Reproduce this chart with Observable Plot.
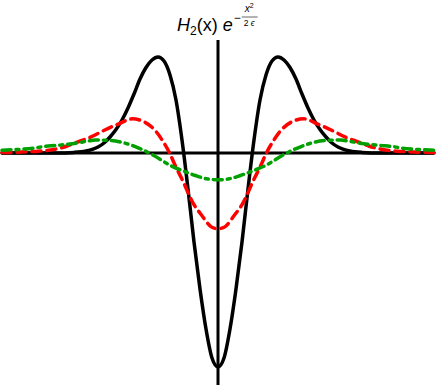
<!DOCTYPE html>
<html>
<head>
<meta charset="utf-8">
<script src="https://cdn.jsdelivr.net/npm/d3@7"></script>
<script src="https://cdn.jsdelivr.net/npm/@observablehq/plot@0.6"></script>
<style>
  html, body { margin: 0; padding: 0; background: #fff; }
  #chart svg { display: block; }
</style>
</head>
<body>
<div id="chart"></div>
<script>
// Right half (x >= 0) of each curve; the curves are symmetric about x = 0.
const blackX = [0, 0.1, 0.2, 0.3, 0.4, 0.5, 0.6, 0.7, 0.8, 0.9, 1.0, 1.1, 1.2, 1.3, 1.4, 1.5, 1.6, 1.7, 1.8, 1.9, 2.0, 2.2, 2.4, 2.7, 3.6];
const blackY = [-2.14, -2.05, -1.76, -1.36, -0.89, -0.36, 0.13, 0.53, 0.78, 0.92, 0.96, 0.93, 0.855, 0.74, 0.59, 0.45, 0.33, 0.235, 0.16, 0.10, 0.06, 0.02, 0.006, 0, 0];

const redX = [0, 0.103, 0.27, 0.408, 0.603, 0.713, 0.813, 0.908, 1.047, 1.242, 1.43, 1.653, 1.903, 2.125, 2.347, 2.513, 2.737, 2.987, 3.175, 3.6];
const redY = [-0.757, -0.742, -0.625, -0.508, -0.258, -0.125, 0.008, 0.108, 0.225, 0.315, 0.342, 0.292, 0.225, 0.158, 0.108, 0.07, 0.035, 0.018, 0.012, 0.004];

const greenX = [0, 0.187, 0.375, 0.575, 0.792, 1.07, 1.292, 1.57, 1.792, 2.042, 2.18, 2.43, 2.708, 2.903, 3.08, 3.263, 3.458, 3.6];
const greenY = [-0.268, -0.258, -0.225, -0.18, -0.125, -0.025, 0.042, 0.102, 0.125, 0.13, 0.118, 0.092, 0.075, 0.065, 0.048, 0.038, 0.032, 0.028];

const seriesNames = ["black", "red", "green"];

function mirror(xs, ys, name) {
  const left = xs.slice(1).map((x, i) => ({x: -x, y: ys[i + 1], s: name})).reverse();
  const right = xs.map((x, i) => ({x, y: ys[i], s: name}));
  return left.concat(right);
}

const black = mirror(blackX, blackY, seriesNames[0]);
const red = mirror(redX, redY, seriesNames[1]);
const green = mirror(greenX, greenY, seriesNames[2]);

const chart = Plot.plot({
  width: 436,
  height: 388,
  marginLeft: 1.5,
  marginRight: 2.5,
  marginTop: 40,
  marginBottom: 3,
  x: {domain: [-3.6, 3.6], axis: null},
  y: {domain: [-2.325, 1.125], axis: null},
  style: {background: "#fff"},
  marks: [
    Plot.ruleY([0], {stroke: "#000", strokeWidth: 3}),
    Plot.ruleX([0], {stroke: "#000", strokeWidth: 3}),
    Plot.line(black, {x: "x", y: "y", stroke: "#000", strokeWidth: 3.5, curve: "monotone-x"}),
    Plot.line(red, {x: "x", y: "y", stroke: "#ff0000", strokeWidth: 3.5, strokeDasharray: "9,6", curve: "monotone-x"}),
    Plot.line(green, {x: "x", y: "y", stroke: "#00a000", strokeWidth: 3.5, strokeDasharray: "9,5,3,5", curve: "monotone-x"})
  ]
});

document.getElementById("chart").appendChild(chart);

// Title: H_2(x) e^{-x^2/(2ε)}
const svg = d3.select(chart);
const font = "'Liberation Sans', Arial, Helvetica, sans-serif";
const t = svg.append("text")
  .attr("x", 177).attr("y", 31).attr("text-anchor", "start")
  .attr("font-family", font).attr("font-size", 18).attr("fill", "#000");
t.append("tspan").attr("font-style", "italic").text("H");
t.append("tspan").attr("font-size", 12).attr("dy", 4).text("2");
t.append("tspan").attr("dy", -4).text("(x) ");
t.append("tspan").attr("font-style", "italic").text("e");
const w = t.node().getComputedTextLength();
const ex = 177 + w + 1;
const g = svg.append("g").attr("font-family", font).attr("fill", "#000").attr("text-anchor", "start");
g.append("text").attr("x", ex).attr("y", 22).attr("font-size", 12).text("−");
const num = g.append("text").attr("x", ex + 11).attr("y", 12).attr("font-size", 10);
num.append("tspan").attr("font-style", "italic").text("x");
num.append("tspan").attr("font-size", 7).attr("dy", -4).text("2");
g.append("line").attr("x1", ex + 8).attr("x2", ex + 24).attr("y1", 17).attr("y2", 17)
  .attr("stroke", "#000").attr("stroke-width", 0.6);
const den = g.append("text").attr("x", ex + 10).attr("y", 26).attr("font-size", 8.5);
den.append("tspan").text("2 ");
den.append("tspan").attr("font-style", "italic").text("ϵ");
</script>
</body>
</html>
